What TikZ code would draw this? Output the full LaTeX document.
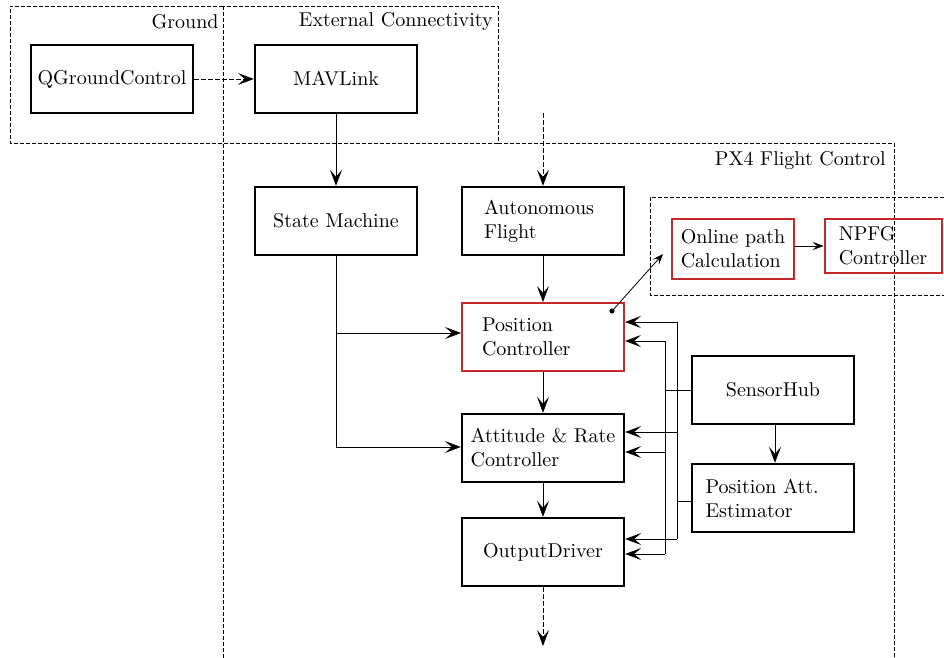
\documentclass[tikz,border=0pt]{standalone}
\usetikzlibrary{arrows.meta}
\definecolor{hlred}{RGB}{196,42,42}
\begin{document}
\begin{tikzpicture}[x=0.5pt,y=-0.5pt,
  block/.style={draw,line width=1.2pt,minimum width=81pt,minimum height=34pt,align=left,inner sep=2pt},
  redblock/.style={block,draw=hlred,line width=1pt},
  group/.style={draw,line width=0.4pt,dash pattern=on 2pt off 1pt},
  tip/.style={-{Stealth[length=8pt,width=6pt,inset=3.5pt]}},
  smalltip/.style={-{Stealth[length=5.5pt,width=4.2pt,inset=2.3pt]}},
  conn/.style={line width=0.4pt},
  flow/.style={conn,tip},
  dflow/.style={conn,tip,dash pattern=on 2.5pt off 1pt},
  grouplabel/.style={anchor=east,inner sep=0pt}]
\useasboundingbox (0,0) rectangle (944,658);

% grouping frames (shared edges are drawn once)
\draw[group] (223,6) -- (10,6) -- (10,143) -- (223,143);
\draw[group] (223,6) rectangle (498,143);
\draw[group] (223,658) -- (223,143);
\draw[group] (498,143) -- (894,143) -- (894,658);
\draw[group] (944,197) -- (650,197) -- (650,295) -- (944,295);
\node[grouplabel] (lground) at (219,22) {Ground};
\node[grouplabel] (lext) at (493,22) {External Connectivity};
\node[grouplabel] (lpx4) at (886,161) {PX4 Flight Control};

% blocks
\node[block] (qgc) at (112,79) {QGroundControl};
\node[block] (mav) at (336,79) {MAVLink};
\node[block] (sm) at (336,221) {State Machine};
\node[block,text width=59pt] (af) at (543,221) {Autonomous\\Flight};
\node[redblock,text width=61pt] (pc) at (543,337) {Position\\Controller};
\node[block] (ac) at (543,448) {Attitude \& Rate\\Controller};
\node[block] (od) at (543,552) {OutputDriver};
\node[block] (sh) at (773,390) {SensorHub};
\node[block,text width=67.5pt] (pe) at (773,498) {Position Att.\\Estimator};
\node[redblock,minimum width=61pt,minimum height=30pt] (op) at (733,249) {Online path\\Calculation};
\node[redblock,minimum width=58.5pt,minimum height=27pt] (npfg) at (883,246) {NPFG\\Controller};

% external links
\coordinate (cmdin) at (543,113);
\coordinate (cmdout) at (543,646);
\draw[dflow] (qgc) -- (mav);
\draw[dflow] (cmdin) -- (af.north);
\draw[dflow] (od.south) -- (cmdout);

% main control chain
\draw[flow] (mav) -- (sm);
\draw[flow] (af) -- (pc);
\draw[flow] (pc) -- (ac);
\draw[flow] (ac) -- (od);
\draw[flow] (sh.south -| 775,0) -- (pe.north -| 775,0);

% state machine fan-out
\coordinate (smjoin) at (336,447);
\draw[conn] (sm.south) -- (smjoin);
\draw[flow] (smjoin |- 0,333) -- (pc.west |- 0,333);
\draw[flow] (smjoin) -- (ac.west |- smjoin);

% path planning hook
\coordinate (hook) at (612,311);
\fill (hook) circle (2.6);
\draw[conn,smalltip] (hook) -- (663,254);
\draw[conn,smalltip] (op.east |- 0,246) -- (npfg.west |- 0,246);

% sensor buses
\coordinate (inTop) at (665,341);
\coordinate (inBot) at (665,554);
\coordinate (outTop) at (677,322);
\coordinate (outBot) at (677,539);
\draw[conn] (sh.west) -- (inTop |- sh.west);
\draw[conn] (inTop) -- (inBot);
\draw[flow] (inTop) -- (pc.east |- inTop);
\draw[flow] (inTop |- 0,452) -- (ac.east |- 0,452);
\draw[flow] (inBot) -- (od.east |- inBot);
\draw[conn] (pe.west |- 0,501) -- (outTop |- 0,501);
\draw[conn] (outTop) -- (outBot);
\draw[flow] (outTop) -- (pc.east |- outTop);
\draw[flow] (outTop |- 0,432) -- (ac.east |- 0,432);
\draw[flow] (outBot) -- (od.east |- outBot);
\end{tikzpicture}
\end{document}
